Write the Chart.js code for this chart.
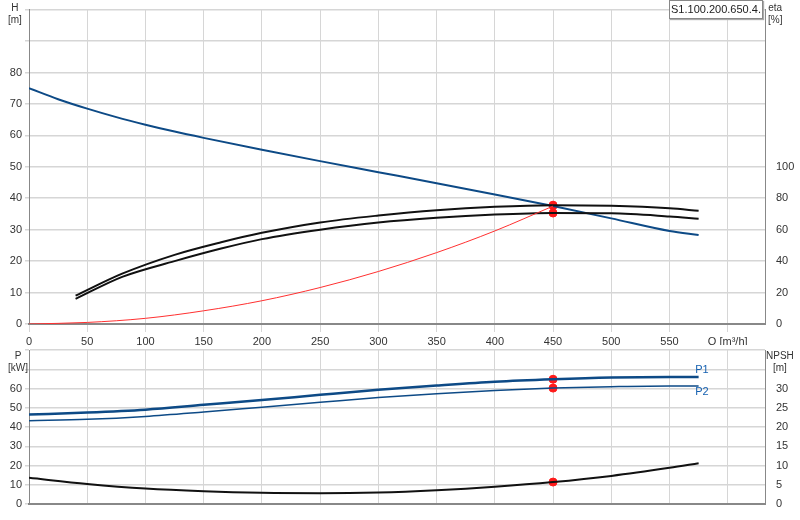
<!DOCTYPE html><html><head><meta charset="utf-8">
<script src="https://cdn.jsdelivr.net/npm/chart.js@4"></script>
<style>
body{margin:0;background:#fff;font-family:"Liberation Sans",Arial,sans-serif;}
#w{position:relative;width:800px;height:520px;}
canvas{position:absolute;left:0;}
.t{position:absolute;font-size:10px;color:#333;line-height:12px;}
#box{position:absolute;left:669px;top:0;width:92px;height:17px;border:1px solid #888;background:#fff;font-size:11px;color:#222;line-height:17px;text-align:center;box-shadow:1px 1px 1px #aaa;}
</style></head><body><div id="w">
<canvas id="c1" width="800" height="345" style="top:0"></canvas>
<canvas id="c2" width="800" height="180" style="top:340px"></canvas>
<div class="t" style="left:8px;top:2px;text-align:center">H<br>[m]</div>
<div class="t" style="left:768px;top:2px;text-align:center">eta<br>[%]</div>
<div class="t" style="left:8px;top:350px;text-align:center">P<br>[kW]</div>
<div class="t" style="left:766px;top:350px;text-align:center">NPSH<br>[m]</div>
<div id="box">S1.100.200.650.4.</div>
</div>
<script>
const qH=[0,25,50,75,100,125,150,200,250,300,350,400,450,500,550,575];
const H=[75,71.5,68.5,65.8,63.4,61.2,59.2,55.4,51.8,48.3,44.8,41.2,37.5,33.6,29.6,28.3];
const qEta=[40,80,125,165,200,250,300,350,400,450,500,550,575];
const eta1=[18,32,44,52,58,64.6,69,72.4,74.6,75.6,75.2,73.6,72];
const eta2=[16,30,40,48,54,60,64.6,67.6,69.6,70.6,70.4,68.4,67];
const qSys=[0,50,100,150,200,250,300,350,400,450];
const Hsys=[0,0.5,1.8,4.2,7.4,11.6,16.7,22.7,29.6,37.5];
const qP=[0,50,100,150,200,250,300,350,400,450,500,550,575];
const P1=[46.5,47.5,49,51.5,54,56.7,59.3,61.5,63.5,64.8,65.7,66,66];
const P2=[43.3,44,45.5,47.8,50.3,52.8,55.3,57.3,59,60.2,60.9,61.3,61.3];
const NPSH=[6.8,5.2,4,3.3,2.9,2.8,3,3.6,4.5,5.7,7.3,9.4,10.6];
const dutyQ=450, dutyH=37.6, dutyEta=[75.6,70.6], dutyP=[64.8,60.2], dutyNPSH=5.7;

const xy=(xs,ys)=>xs.map((x,i)=>({x,y:ys[i]}));
const F={family:"Liberation Sans",size:11};
const grid={color:'#d6d6d6',lineWidth:1.5,drawTicks:true,tickLength:4};
const line=(d,c,w,ax)=>({data:d,showLine:true,borderColor:c,borderWidth:w,pointRadius:0,tension:0.4,cubicInterpolationMode:'monotone',yAxisID:ax,fill:false});
const dot=(d,ax)=>({data:d,showLine:false,pointRadius:4,pointBackgroundColor:'#ff1a1a',pointBorderColor:'#ff1a1a',yAxisID:ax});
const fitW=w=>s=>{s.width=w;};
const xTicks=s=>{s.ticks=s.ticks.filter(t=>t.value%50===0&&t.value<=600);};
new Chart(c1,{type:'scatter',data:{datasets:[
 line(xy(qSys,Hsys),'#ff3030',1,'y'),
 line(xy(qEta,eta1),'#111',2,'y2'),
 line(xy(qEta,eta2),'#111',2,'y2'),
 line(xy(qH,H),'#0d4a86',2,'y'),
 dot([{x:dutyQ,y:dutyH}],'y'),
 dot(dutyEta.map(v=>({x:dutyQ,y:v})),'y2')]},
options:{responsive:false,animation:false,layout:{padding:{top:-9}},plugins:{legend:{display:false},tooltip:{enabled:false}},
 scales:{x:{type:'linear',min:0,max:632,afterBuildTicks:xTicks,ticks:{stepSize:50,font:F,color:'#333',maxRotation:0,callback:v=>v>550?'Q [m³/h]':v},grid:{color:'#d6d6d6',lineWidth:1},border:{color:'#888',width:2},afterFit:s=>{s.height=21;}},
  y:{position:'left',min:0,max:100,ticks:{stepSize:10,font:F,color:'#333',callback:v=>v>80?'':v},grid:grid,border:{color:'#888'},afterFit:fitW(29)},
  y2:{position:'right',min:0,max:200,ticks:{stepSize:20,font:F,color:'#333',callback:v=>v>100?'':v},grid:{display:false},border:{color:'#888'},afterFit:fitW(35)}}}});
const lbl={id:'lbl',afterDatasetsDraw(c){const g=c.ctx,x=c.scales.x,y=c.scales.y;g.save();g.fillStyle='#1560b0';g.font='11px "Liberation Sans"';g.fillText('P1',x.getPixelForValue(572),y.getPixelForValue(68));g.fillText('P2',x.getPixelForValue(572),y.getPixelForValue(56.5));g.restore();}};
new Chart(c2,{type:'scatter',plugins:[lbl],data:{datasets:[
 line(xy(qP,P1),'#0d4a86',2.5,'y'),
 line(xy(qP,P2),'#0d4a86',1.5,'y'),
 line(xy(qP,NPSH),'#111',2,'y2'),
 dot(dutyP.map(v=>({x:dutyQ,y:v})),'y'),
 dot([{x:dutyQ,y:dutyNPSH}],'y2')]},
options:{responsive:false,animation:false,layout:{padding:{top:10,bottom:16}},plugins:{legend:{display:false},tooltip:{enabled:false}},
 scales:{x:{type:'linear',min:0,max:632,afterBuildTicks:xTicks,ticks:{display:false,stepSize:50},grid:{color:'#d6d6d6',lineWidth:1,drawTicks:false},border:{color:'#888',width:2}},
  y:{position:'left',min:0,max:80,ticks:{stepSize:10,font:F,color:'#333',callback:v=>v>60?'':v},grid:grid,border:{color:'#888'},afterFit:fitW(29)},
  y2:{position:'right',min:0,max:40,ticks:{stepSize:5,font:F,color:'#333',callback:v=>v>30?'':v},grid:{display:false},border:{color:'#888'},afterFit:fitW(35)}}}});
</script></body></html>
